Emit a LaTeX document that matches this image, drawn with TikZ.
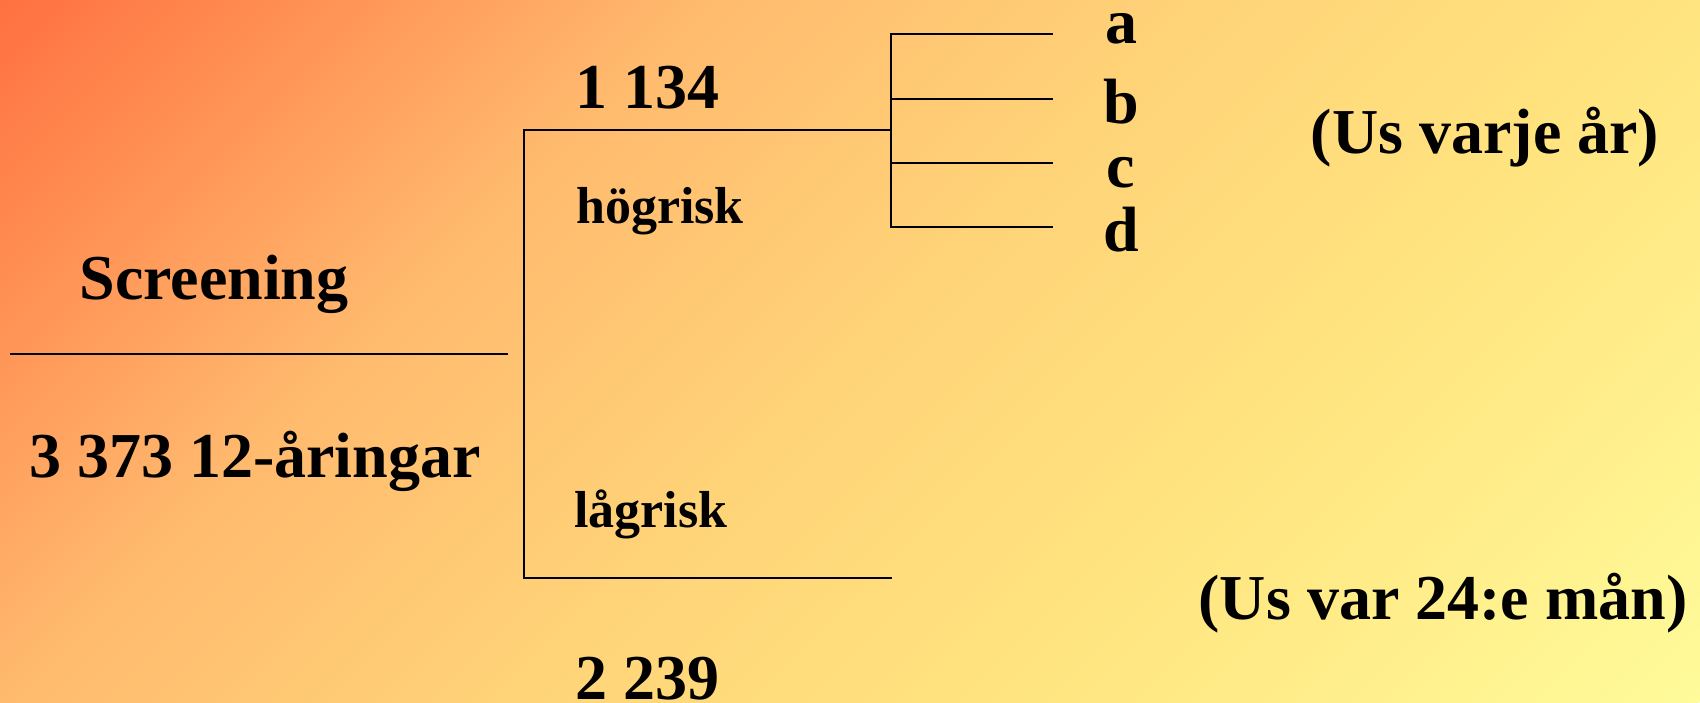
\documentclass[tikz,border=0pt]{standalone}
\usepackage{fontspec}
\setmainfont{Liberation Serif}
\definecolor{bgA}{HTML}{FF7040}
\definecolor{bgB}{HTML}{FFBA6E}
\definecolor{bgC}{HTML}{FFD378}
\definecolor{bgD}{HTML}{FFE47F}
\definecolor{bgE}{HTML}{FFFB9A}
\pgfdeclarehorizontalshading{bgramp}{100bp}{color(0bp)=(bgA); color(25bp)=(bgA); color(39.6bp)=(bgB); color(50bp)=(bgC); color(60.4bp)=(bgD); color(75bp)=(bgE); color(100bp)=(bgE)}
\begin{document}
\begin{tikzpicture}[x=0.5pt, y=-0.5pt,
  big/.style={inner sep=0pt, anchor=base, font=\fontsize{32}{38}\selectfont\bfseries},
  small/.style={inner sep=0pt, anchor=base, font=\fontsize{26}{31}\selectfont\bfseries},
  tree/.style={line width=1pt, line cap=rect}]
\useasboundingbox (0,0) rectangle (1700,702);
% diagonal background ramp, orange at the top left to pale yellow at the bottom right
\begin{scope}
  \clip (0,0) rectangle (1700,702);
  \begin{scope}[transform canvas={rotate around={-45:(0,0)}}]
    \shade[shading=bgramp] (0pt,-300pt) rectangle (849pt,650pt);
  \end{scope}
\end{scope}

% labels
\node[big] (scr) at (214,299) {Screening};
\node[big] (pop) at (255,477) {3 373 12-åringar};
\node[big] (hin) at (647,108) {1 134};
\node[small] (hil) at (660,223) {högrisk};
\node[small] (lol) at (651,527) {lågrisk};
\node[big] (lon) at (647,699) {2 239};
\node[big] (la) at (1121,43) {a};
\node[big] (lb) at (1121,123) {b};
\node[big] (lc) at (1121,187) {c};
\node[big] (ld) at (1121,251) {d};
\node[big] (yr) at (1485,153) {(Us varje år)};
\node[big] (mo) at (1443,619) {(Us var 24:e mån)};

% tree points
\coordinate (rootL) at (11,354);
\coordinate (rootR) at (507,354);
\coordinate (trTop) at (524,130);
\coordinate (trBot) at (524,578);
\coordinate (hiEnd) at (891,130);
\coordinate (loEnd) at (891,578);
\coordinate (brTop) at (891,34);
\coordinate (brBot) at (891,227);
\coordinate (ea) at (1052,34);
\coordinate (eb) at (1052,99);
\coordinate (ec) at (1052,163);
\coordinate (ed) at (1052,227);
\coordinate (sb) at (891,99);
\coordinate (sc) at (891,163);

% connectors
\draw[tree] (rootL) -- (rootR);
\draw[tree] (hiEnd) -- (trTop) -- (trBot) -- (loEnd);
\draw[tree] (brTop) -- (brBot);
\draw[tree] (brTop) -- (ea);
\draw[tree] (sb) -- (eb);
\draw[tree] (sc) -- (ec);
\draw[tree] (brBot) -- (ed);
\end{tikzpicture}
\end{document}
